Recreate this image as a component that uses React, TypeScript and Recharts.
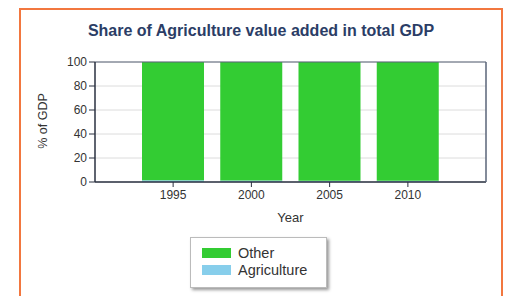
import { BarChart, Bar, XAxis, YAxis, CartesianGrid, Label } from 'recharts';

const YEARS = ['1995', '2000', '2005', '2010'];
const AGRICULTURE = [1.5, 1.3, 1.1, 1.0];
const OTHER = [98.5, 98.7, 98.9, 99.0];
const Y_TICKS = [0, 20, 40, 60, 80, 100];

const SERIES = [
  { key: 'other', name: 'Other', color: '#33cc33' },
  { key: 'agriculture', name: 'Agriculture', color: '#87ceeb' },
];

const data = YEARS.map((year, i) => ({
  year,
  agriculture: AGRICULTURE[i],
  other: OTHER[i],
}));

const FONT = '"Liberation Sans", Arial, sans-serif';

export default function App() {
  return (
    <div style={{ position: 'relative', width: 506, height: 296, fontFamily: FONT, background: '#fff' }}>
      <style>{'body{margin:0}'}</style>
      {/* orange frame */}
      <div
        style={{
          position: 'absolute',
          left: 19,
          top: 8,
          width: 484,
          height: 290,
          border: '2px solid #f2773f',
          boxSizing: 'border-box',
        }}
      />
      <div
        style={{
          position: 'absolute',
          left: 0,
          width: 522,
          top: 22,
          textAlign: 'center',
          fontSize: 16,
          fontWeight: 'bold',
          color: '#2b3d66',
        }}
      >
        Share of Agriculture value added in total GDP
      </div>
      <div style={{ position: 'absolute', left: 0, top: 0 }}>
        <BarChart
          width={506}
          height={296}
          data={data}
          margin={{ top: 61, right: 19, bottom: 74, left: 55 }}
          barCategoryGap={8}
        >
          <CartesianGrid vertical={false} stroke="#dcdcdc" />
          <XAxis
            dataKey="year"
            padding={{ left: 39, right: 39 }}
            height={40}
            tickSize={5}
            tickMargin={3}
            tick={{ fill: '#333', fontSize: 12 }}
            stroke="#2a3140"
            axisLine={{ stroke: '#2a3140', strokeWidth: 1.5 }}
          >
            <Label value="Year" position="insideBottom" offset={0} fill="#333" fontSize={13} />
          </XAxis>
          <XAxis
            xAxisId="top"
            dataKey="year"
            orientation="top"
            height={1}
            tick={false}
            tickLine={false}
            axisLine={{ stroke: '#5a6478' }}
          />
          <YAxis
            width={40}
            domain={[0, 100]}
            ticks={Y_TICKS}
            tickSize={6}
            tickMargin={2}
            tick={{ fill: '#333', fontSize: 12 }}
            stroke="#2a3140"
            axisLine={{ stroke: '#2a3140', strokeWidth: 1.5 }}
          >
            <Label
              content={() => (
                <text x={47} y={121} transform="rotate(-90 47 121)" textAnchor="middle" fill="#333" fontSize={12.5}>
                  % of GDP
                </text>
              )}
            />
          </YAxis>
          <YAxis
            yAxisId="right"
            orientation="right"
            width={1}
            tick={false}
            tickLine={false}
            domain={[0, 100]}
            axisLine={{ stroke: '#5a6478', strokeWidth: 1.5 }}
          />
          <Bar dataKey="agriculture" stackId="a" fill="#87ceeb" isAnimationActive={false} />
          <Bar dataKey="other" stackId="a" fill="#33cc33" isAnimationActive={false} />
        </BarChart>
      </div>
      {/* legend */}
      <div
        style={{
          position: 'absolute',
          left: 190,
          top: 237,
          width: 137,
          height: 51,
          border: '1px solid #bbb',
          boxShadow: '2px 2px 3px #999',
          background: '#fff',
          boxSizing: 'border-box',
          padding: '6px 0 0 11px',
        }}
      >
        {SERIES.map((s) => (
          <div key={s.key} style={{ display: 'flex', alignItems: 'center', height: 17, fontSize: 14.5, color: '#333' }}>
            <span style={{ width: 29, height: 10, background: s.color, display: 'inline-block', marginRight: 7 }} />
            {s.name}
          </div>
        ))}
      </div>
    </div>
  );
}
